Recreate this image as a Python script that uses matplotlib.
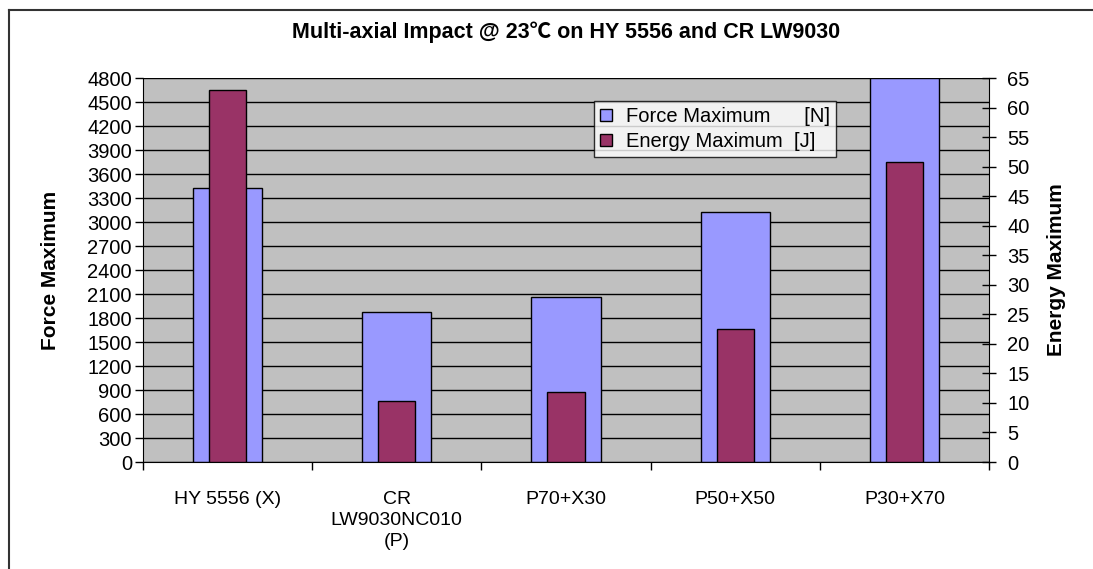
import numpy as np
import matplotlib
matplotlib.use('Agg')
import matplotlib.pyplot as plt
from matplotlib.lines import Line2D

plt.rcParams['font.family'] = ['Liberation Sans', 'Noto Sans CJK SC', 'DejaVu Sans']

# data
categories = ['HY 5556 (X)', 'CR\nLW9030NC010\n(P)', 'P70+X30', 'P50+X50', 'P30+X70']
force_max = [3425, 1870, 2060, 3130, 4800]     # [N]
energy_max = [63.0, 10.4, 11.9, 22.5, 50.7]    # [J]

blue = '#9999FF'
maroon = '#993366'

fig = plt.figure(figsize=(10.93, 5.69), dpi=100)
ax = fig.add_axes([143/1093, 1 - 462/569, (989-143)/1093, (462-78)/569])
ax.set_facecolor('#C0C0C0')

x = np.arange(len(categories)) + 0.5

ax.bar(x, force_max, width=0.41, color=blue, edgecolor='black', linewidth=1.0,
       label='Force Maximum      [N]', zorder=2)
ax.set_xlim(0, len(categories))
ax.set_ylim(0, 4800)
ax.set_yticks(np.arange(0, 4801, 300))
ax.yaxis.grid(True, color='black', linewidth=1.0)
ax.set_axisbelow(True)
ax.tick_params(axis='y', direction='out', length=6, width=1, pad=2, labelsize=14.5)

# x ticks at category boundaries, labels at centres
ax.set_xticks(np.arange(0, len(categories) + 1))
ax.set_xticklabels([])
ax.set_xticks(x, minor=True)
ax.set_xticklabels(categories, minor=True, fontsize=14, linespacing=1.32)
ax.tick_params(axis='x', which='major', direction='out', length=6, width=1)
ax.tick_params(axis='x', which='minor', length=0, pad=21)

for s in ['top', 'right']:
    ax.spines[s].set_visible(False)
ax.spines['left'].set_color('black')
ax.spines['bottom'].set_color('black')

ax.set_ylabel('Force Maximum', fontsize=15, fontweight='bold')
ax.yaxis.set_label_coords(-0.098, 0.5)

ax2 = ax.twinx()
ax2.bar(x, energy_max, width=0.22, color=maroon, edgecolor='black', linewidth=1.0,
        label='Energy Maximum  [J]', zorder=3)
ax2.set_ylim(0, 65)
ax2.set_yticks(np.arange(0, 66, 5))
ax2.tick_params(axis='y', direction='inout', length=10, width=1, pad=8, labelsize=14.5)
for s in ['top', 'left', 'bottom']:
    ax2.spines[s].set_visible(False)
ax2.spines['right'].set_color('black')
ax2.set_ylabel('Energy Maximum', fontsize=15, fontweight='bold')
ax2.yaxis.set_label_coords(1.0686, 0.5)

h1, l1 = ax.get_legend_handles_labels()
h2, l2 = ax2.get_legend_handles_labels()
leg = ax2.legend(h1 + h2, l1 + l2, loc='upper left',
                 bbox_to_anchor=((594-143)/846, (462-101)/384),
                 fontsize=14.5, frameon=True, fancybox=False, shadow=False,
                 borderpad=0.3, handlelength=0.6, handleheight=0.6,
                 handletextpad=0.7, labelspacing=0.3, borderaxespad=0)
leg.get_frame().set_edgecolor('black')
leg.get_frame().set_linewidth(1.0)

fig.text(566/1093, 1 - 32/569, 'Multi-axial Impact @ 23\u2103 on HY 5556 and CR LW9030',
         ha='center', va='center', fontsize=15.5, fontweight='bold')

# chart-area frame (only left and top edges fall inside the image)
fig.add_artist(Line2D([9/1093, 9/1093], [0, 1 - 10/569], transform=fig.transFigure,
                      color='#333333', linewidth=1.5))
fig.add_artist(Line2D([9/1093, 1], [1 - 10/569, 1 - 10/569], transform=fig.transFigure,
                      color='#333333', linewidth=1.5))

fig.savefig('out.png', dpi=100)
